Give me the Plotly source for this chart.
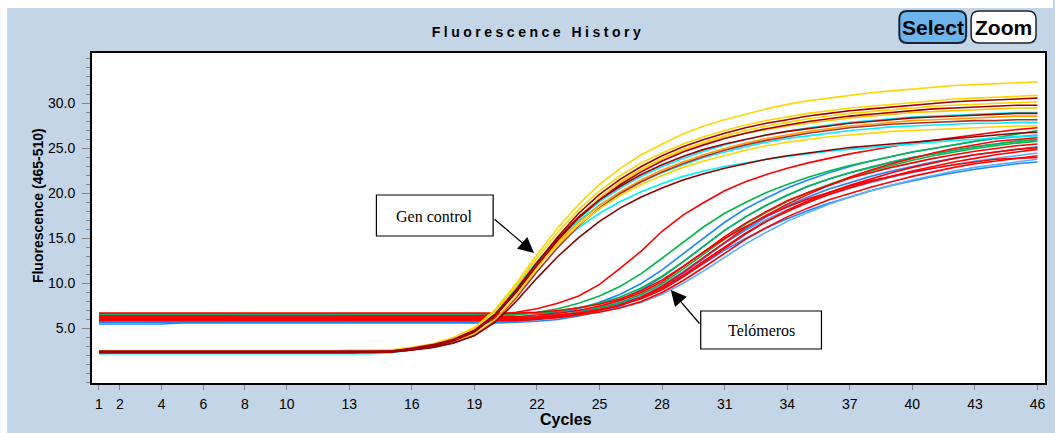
import plotly.graph_objects as go

# ---------------- data ----------------
cycles = list(range(1, 47))

x_tick_values = [1, 2, 4, 6, 8, 10, 13, 16, 19, 22, 25, 28, 31, 34, 37, 40, 43, 46]
y_tick_values = [5, 10, 15, 20, 25, 30]
y_tick_labels = ["5.0", "10.0", "15.0", "20.0", "25.0", "30.0"]

# "Gen control" curves (cycles 1..46)
gen_yellow_1 = [2.5, 2.5, 2.5, 2.5, 2.5, 2.5, 2.5, 2.5, 2.5, 2.5, 2.5, 2.5, 2.5, 2.5,
                2.6, 2.9, 3.3, 4.0, 5.1, 7.1, 10.0, 13.2, 16.2, 18.8, 21.0, 22.8, 24.3, 25.5, 26.6, 27.5, 28.2, 28.8,
                29.4, 29.9, 30.3, 30.6, 30.9, 31.2, 31.4, 31.6, 31.8, 32.0, 32.1, 32.2, 32.3, 32.4]
gen_yellow_2 = [2.4, 2.4, 2.4, 2.4, 2.4, 2.4, 2.4, 2.4, 2.4, 2.4, 2.4, 2.4, 2.4, 2.4,
                2.5, 2.8, 3.2, 3.9, 5.0, 6.9, 9.7, 12.8, 15.7, 18.2, 20.3, 22.0, 23.4, 24.5, 25.5, 26.3, 27.0, 27.6,
                28.1, 28.5, 28.9, 29.2, 29.5, 29.7, 29.9, 30.1, 30.3, 30.5, 30.6, 30.7, 30.8, 30.9]
gen_darkred_1 = [2.3, 2.3, 2.3, 2.3, 2.3, 2.3, 2.3, 2.3, 2.3, 2.3, 2.3, 2.3, 2.3, 2.4,
                 2.5, 2.7, 3.1, 3.7, 4.7, 6.5, 9.2, 12.3, 15.2, 17.8, 19.9, 21.6, 23.0, 24.2, 25.2, 26.0, 26.7, 27.3,
                 27.8, 28.2, 28.6, 28.9, 29.2, 29.4, 29.6, 29.8, 30.0, 30.2, 30.3, 30.4, 30.5, 30.6]
gen_yellow_3 = [2.5, 2.5, 2.5, 2.5, 2.5, 2.5, 2.5, 2.5, 2.5, 2.5, 2.5, 2.5, 2.6, 2.6,
                2.6, 2.7, 3.0, 3.5, 4.4, 6.0, 8.6, 11.7, 14.7, 17.3, 19.5, 21.3, 22.7, 23.9, 24.9, 25.7, 26.4, 27.0,
                27.5, 27.9, 28.3, 28.6, 28.9, 29.1, 29.3, 29.5, 29.7, 29.8, 29.9, 30.0, 30.1, 30.2]
gen_darkred_2 = [2.4, 2.4, 2.4, 2.4, 2.4, 2.4, 2.4, 2.4, 2.4, 2.4, 2.4, 2.4, 2.4, 2.4,
                 2.4, 2.6, 3.0, 3.6, 4.6, 6.4, 9.0, 12.0, 14.8, 17.3, 19.3, 21.0, 22.4, 23.6, 24.6, 25.4, 26.1, 26.7,
                 27.2, 27.6, 28.0, 28.3, 28.6, 28.8, 29.0, 29.2, 29.4, 29.5, 29.6, 29.7, 29.8, 29.8]
gen_cyan_1 = [2.2, 2.2, 2.2, 2.2, 2.2, 2.2, 2.2, 2.2, 2.2, 2.2, 2.2, 2.2, 2.2, 2.2,
              2.3, 2.6, 3.1, 3.8, 4.9, 6.8, 9.5, 12.4, 15.0, 17.2, 19.1, 20.6, 21.9, 23.0, 23.9, 24.7, 25.4, 26.0,
              26.5, 26.9, 27.3, 27.6, 27.9, 28.1, 28.3, 28.5, 28.6, 28.7, 28.8, 28.9, 29.0, 29.0]
gen_orange = [2.5, 2.5, 2.5, 2.5, 2.5, 2.5, 2.5, 2.5, 2.5, 2.5, 2.5, 2.5, 2.5, 2.5,
              2.5, 2.8, 3.2, 3.8, 4.8, 6.6, 9.2, 12.0, 14.6, 16.8, 18.7, 20.2, 21.5, 22.6, 23.5, 24.3, 25.0, 25.6,
              26.1, 26.5, 26.9, 27.2, 27.5, 27.7, 27.9, 28.1, 28.2, 28.3, 28.4, 28.5, 28.6, 28.6]
gen_brown = [2.3, 2.3, 2.3, 2.3, 2.3, 2.3, 2.3, 2.3, 2.3, 2.3, 2.3, 2.3, 2.3, 2.3,
             2.4, 2.6, 2.9, 3.4, 4.3, 5.9, 8.4, 11.3, 14.0, 16.4, 18.4, 20.0, 21.3, 22.4, 23.3, 24.1, 24.8, 25.4,
             25.9, 26.3, 26.7, 27.0, 27.3, 27.5, 27.7, 27.8, 27.9, 28.0, 28.1, 28.1, 28.2, 28.2]
gen_cyan_2 = [2.4, 2.4, 2.4, 2.4, 2.4, 2.4, 2.4, 2.4, 2.3, 2.3, 2.3, 2.3, 2.4, 2.4,
              2.4, 2.7, 3.2, 3.9, 5.0, 6.9, 9.6, 12.4, 14.9, 17.0, 18.7, 20.1, 21.3, 22.3, 23.2, 24.0, 24.6, 25.2,
              25.7, 26.1, 26.4, 26.7, 27.0, 27.2, 27.4, 27.5, 27.6, 27.7, 27.8, 27.8, 27.9, 27.9]
gen_yellow_4 = [2.5, 2.5, 2.5, 2.5, 2.5, 2.5, 2.5, 2.5, 2.5, 2.5, 2.5, 2.5, 2.5, 2.5,
                2.5, 2.7, 3.1, 3.7, 4.7, 6.4, 9.0, 11.8, 14.3, 16.5, 18.3, 19.8, 21.0, 22.0, 22.9, 23.6, 24.2, 24.8,
                25.3, 25.7, 26.0, 26.3, 26.5, 26.7, 26.9, 27.0, 27.1, 27.2, 27.3, 27.4, 27.5, 27.5]
gen_darkred_low = [2.4, 2.4, 2.4, 2.4, 2.4, 2.4, 2.4, 2.4, 2.4, 2.4, 2.4, 2.4, 2.4, 2.4,
                   2.4, 2.6, 2.9, 3.4, 4.2, 5.7, 8.0, 10.6, 13.0, 15.1, 16.9, 18.4, 19.6, 20.6, 21.5, 22.2, 22.8, 23.3,
                   23.8, 24.2, 24.5, 24.8, 25.1, 25.3, 25.5, 25.7, 25.9, 26.1, 26.3, 26.5, 26.7, 26.8]
gen_cyan_low = [2.3, 2.3, 2.3, 2.3, 2.3, 2.3, 2.3, 2.3, 2.3, 2.3, 2.3, 2.3, 2.3, 2.3,
                2.4, 2.7, 3.1, 3.8, 4.9, 6.7, 9.3, 12.0, 14.3, 16.2, 17.8, 19.1, 20.2, 21.1, 21.9, 22.5, 23.0, 23.4,
                23.8, 24.1, 24.4, 24.7, 24.9, 25.1, 25.3, 25.5, 25.7, 25.9, 26.0, 26.2, 26.3, 26.4]
gen_darkred_3 = [2.5, 2.5, 2.5, 2.5, 2.5, 2.5, 2.5, 2.5, 2.5, 2.5, 2.5, 2.5, 2.5, 2.5,
                 2.5, 2.8, 3.2, 3.8, 4.8, 6.6, 9.3, 12.3, 15.0, 17.4, 19.3, 20.8, 22.1, 23.2, 24.1, 24.9, 25.5, 26.0,
                 26.5, 26.9, 27.2, 27.5, 27.8, 28.0, 28.2, 28.4, 28.5, 28.6, 28.7, 28.8, 28.9, 28.9]
gen_gold = [2.4, 2.4, 2.4, 2.4, 2.4, 2.4, 2.4, 2.4, 2.4, 2.4, 2.4, 2.4, 2.4, 2.4,
            2.4, 2.7, 3.1, 3.7, 4.7, 6.5, 9.1, 12.1, 14.9, 17.4, 19.5, 21.2, 22.6, 23.8, 24.8, 25.6, 26.2, 26.7,
            27.1, 27.5, 27.8, 28.1, 28.4, 28.6, 28.8, 29.0, 29.1, 29.2, 29.3, 29.4, 29.5, 29.5]

# "Telómeros" curves (cycles 1..46)
tel_red_early = [6.4, 6.4, 6.4, 6.4, 6.4, 6.4, 6.4, 6.4, 6.4, 6.4,
                 6.4, 6.4, 6.4, 6.4, 6.4, 6.4, 6.4, 6.4, 6.4,
                 6.5, 6.8, 7.2, 7.8, 8.6, 9.9, 11.7, 13.6, 15.8, 17.6, 19.0, 20.3, 21.3, 22.1, 22.8, 23.4,
                 23.9, 24.4, 24.8, 25.2, 25.6, 25.9, 26.2, 26.5, 26.8, 27.1, 27.3]
tel_green_1 = [6.2, 6.2, 6.2, 6.2, 6.2, 6.2, 6.2, 6.2, 6.2, 6.2,
               6.2, 6.2, 6.2, 6.2, 6.2, 6.2, 6.2, 6.2, 6.2,
               6.3, 6.5, 6.8, 7.2, 7.8, 8.6, 9.7, 11.1, 12.8, 14.6, 16.3, 17.8, 19.0, 20.1, 21.0, 21.8,
               22.5, 23.1, 23.6, 24.1, 24.6, 25.0, 25.4, 25.8, 26.2, 26.6, 27.0]
tel_blue_1 = [5.8, 5.8, 5.8, 5.8, 5.8, 5.8, 5.8, 5.8, 5.8, 5.8,
              5.8, 5.8, 5.8, 5.8, 5.8, 5.8, 5.8, 5.8, 5.8,
              5.8, 6.0, 6.3, 6.7, 7.2, 7.9, 8.8, 10.0, 11.5, 13.3, 15.1, 16.8, 18.3, 19.5, 20.6, 21.5,
              22.3, 23.0, 23.6, 24.1, 24.6, 25.0, 25.4, 25.8, 26.1, 26.3, 26.5]
tel_green_2 = [6.5, 6.5, 6.5, 6.5, 6.5, 6.5, 6.5, 6.5, 6.5, 6.5,
               6.5, 6.5, 6.5, 6.5, 6.5, 6.5, 6.5, 6.5, 6.5,
               6.5, 6.6, 6.7, 6.9, 7.3, 7.8, 8.5, 9.5, 10.8, 12.4, 14.2, 15.9, 17.4, 18.7, 19.8, 20.8,
               21.6, 22.3, 22.9, 23.5, 24.0, 24.4, 24.8, 25.2, 25.5, 25.8, 26.0]
tel_red_2 = [6.3, 6.3, 6.3, 6.3, 6.3, 6.3, 6.3, 6.2, 6.2, 6.2,
             6.2, 6.2, 6.3, 6.3, 6.3, 6.3, 6.3, 6.3, 6.3,
             6.3, 6.3, 6.5, 6.7, 7.0, 7.5, 8.1, 9.0, 10.2, 11.8, 13.5, 15.2, 16.7, 18.0, 19.2, 20.1,
             20.9, 21.7, 22.3, 22.9, 23.4, 23.9, 24.3, 24.7, 25.0, 25.3, 25.5]
tel_blue_2 = [5.5, 5.5, 5.5, 5.5, 5.6, 5.6, 5.6, 5.6, 5.6, 5.6,
              5.6, 5.6, 5.6, 5.6, 5.6, 5.6, 5.6, 5.6, 5.6,
              5.6, 5.7, 5.8, 6.0, 6.4, 6.9, 7.5, 8.4, 9.6, 11.1, 12.8, 14.5, 16.0, 17.4, 18.6, 19.6,
              20.5, 21.2, 21.9, 22.5, 23.0, 23.5, 23.9, 24.3, 24.6, 24.9, 25.2]
tel_lightblue = [6.0, 6.0, 6.0, 6.0, 6.0, 6.0, 6.0, 6.0, 6.0, 6.0,
                 6.0, 6.0, 6.0, 6.0, 6.0, 6.0, 6.0, 6.0, 6.0,
                 6.0, 6.0, 6.2, 6.4, 6.8, 7.2, 7.8, 8.7, 9.8, 11.3, 12.9, 14.5, 15.9, 17.1, 18.2, 19.1,
                 19.9, 20.6, 21.2, 21.8, 22.3, 22.8, 23.2, 23.6, 23.9, 24.2, 24.5]
tel_red_3 = [6.1, 6.1, 6.1, 6.1, 6.1, 6.1, 6.1, 6.1, 6.1, 6.1,
             6.1, 6.1, 6.1, 6.1, 6.1, 6.1, 6.1, 6.1, 6.1,
             6.1, 6.1, 6.2, 6.4, 6.7, 7.1, 7.6, 8.4, 9.5, 10.9, 12.5, 14.1, 15.6, 16.9, 18.0, 19.0,
             19.9, 20.6, 21.3, 21.9, 22.5, 23.0, 23.5, 23.9, 24.3, 24.6, 24.9]
tel_red_4 = [5.9, 5.9, 5.9, 5.9, 5.9, 5.9, 5.9, 5.9, 5.9, 5.9,
             5.9, 5.9, 5.9, 5.9, 5.9, 5.9, 5.9, 5.9, 5.9,
             5.9, 5.9, 6.0, 6.2, 6.5, 6.8, 7.3, 8.0, 9.0, 10.3, 11.8, 13.4, 14.9, 16.2, 17.4, 18.4,
             19.3, 20.0, 20.7, 21.3, 21.9, 22.4, 22.9, 23.3, 23.6, 23.9, 24.2]
tel_green_3 = [6.0, 6.0, 6.0, 6.0, 6.0, 6.0, 6.0, 6.0, 6.0, 6.0,
               6.0, 6.0, 6.0, 6.0, 6.0, 5.9, 5.9, 5.9, 5.9,
               6.0, 6.1, 6.2, 6.5, 6.8, 7.3, 7.9, 8.8, 10.0, 11.6, 13.3, 15.0, 16.6, 17.9, 19.1, 20.1,
               21.0, 21.8, 22.5, 23.1, 23.7, 24.2, 24.6, 25.0, 25.3, 25.6, 25.8]
tel_blue_3 = [6.6, 6.6, 6.6, 6.6, 6.6, 6.6, 6.6, 6.6, 6.6, 6.6,
              6.6, 6.6, 6.6, 6.6, 6.6, 6.6, 6.6, 6.6, 6.6,
              6.6, 6.6, 6.7, 6.8, 7.0, 7.3, 7.8, 8.5, 9.5, 10.8, 12.2, 13.7, 15.0, 16.2, 17.2, 18.1,
              18.9, 19.6, 20.3, 20.9, 21.4, 21.9, 22.3, 22.7, 23.0, 23.3, 23.5]
tel_red_5 = [6.2, 6.2, 6.2, 6.2, 6.2, 6.2, 6.2, 6.2, 6.2, 6.2,
             6.2, 6.2, 6.2, 6.2, 6.2, 6.2, 6.2, 6.2, 6.2,
             6.2, 6.2, 6.3, 6.5, 6.7, 7.1, 7.6, 8.3, 9.3, 10.7, 12.3, 13.9, 15.5, 16.9, 18.1, 19.2,
             20.1, 20.9, 21.6, 22.3, 22.9, 23.4, 23.9, 24.3, 24.6, 24.9, 25.1]
tel_blue_4 = [5.7, 5.7, 5.7, 5.7, 5.7, 5.7, 5.7, 5.7, 5.7, 5.7,
              5.7, 5.7, 5.7, 5.7, 5.7, 5.7, 5.7, 5.7, 5.7,
              5.7, 5.8, 6.0, 6.4, 6.8, 7.4, 8.2, 9.3, 10.7, 12.4, 14.2, 15.9, 17.4, 18.7, 19.8, 20.8,
              21.6, 22.3, 22.9, 23.5, 24.0, 24.4, 24.8, 25.2, 25.5, 25.8, 26.0]
tel_red_6 = [6.7, 6.7, 6.7, 6.7, 6.7, 6.7, 6.7, 6.7, 6.7, 6.7,
             6.7, 6.7, 6.7, 6.7, 6.7, 6.7, 6.7, 6.7, 6.7,
             6.7, 6.7, 6.8, 7.0, 7.3, 7.7, 8.3, 9.2, 10.4, 11.9, 13.5, 15.0, 16.3, 17.5, 18.5, 19.4,
             20.1, 20.8, 21.4, 21.9, 22.4, 22.8, 23.2, 23.5, 23.8, 23.9, 24.0]
tel_blue_5 = [6.3, 6.3, 6.3, 6.3, 6.3, 6.3, 6.3, 6.3, 6.3, 6.3,
              6.3, 6.3, 6.3, 6.3, 6.3, 6.3, 6.3, 6.3, 6.3,
              6.3, 6.3, 6.3, 6.4, 6.6, 6.9, 7.3, 7.9, 8.8, 10.0, 11.4, 12.9, 14.4, 15.7, 16.9, 17.9,
              18.8, 19.6, 20.3, 20.9, 21.5, 22.0, 22.5, 22.9, 23.2, 23.5, 23.8]
tel_red_7 = [6.0, 6.0, 6.0, 6.0, 6.0, 6.0, 6.0, 6.0, 6.0, 6.0,
             6.0, 6.0, 6.0, 6.0, 6.0, 6.0, 6.0, 6.0, 6.0,
             6.0, 6.0, 6.1, 6.3, 6.6, 7.0, 7.6, 8.5, 9.7, 11.2, 12.9, 14.6, 16.2, 17.6, 18.8, 19.9,
             20.9, 21.8, 22.6, 23.3, 23.9, 24.5, 25.0, 25.4, 25.8, 26.0, 26.2]

# ---------------- styling ----------------
YELLOW, GOLD, DARKRED, DKRED2, BROWN = "#FFD400", "#FFC400", "#A00000", "#8B0000", "#B03030"
CYAN, ORANGE = "#00F0FF", "#FFA000"
RED, BLUE, LBLUE, GREEN = "#FF0000", "#1E88FF", "#5AAEFF", "#00B84A"

series = [
    (tel_lightblue, LBLUE), (tel_blue_1, BLUE), (tel_blue_2, BLUE), (tel_blue_3, BLUE),
    (tel_blue_4, BLUE), (tel_blue_5, LBLUE),
    (tel_green_1, GREEN), (tel_green_2, GREEN), (tel_green_3, GREEN),
    (tel_red_2, RED), (tel_red_3, RED), (tel_red_4, RED), (tel_red_5, RED),
    (tel_red_6, RED), (tel_red_7, RED), (tel_red_early, RED),
    (gen_cyan_1, CYAN), (gen_cyan_2, CYAN), (gen_cyan_low, CYAN),
    (gen_orange, ORANGE), (gen_brown, BROWN),
    (gen_yellow_4, YELLOW), (gen_gold, GOLD), (gen_yellow_3, YELLOW),
    (gen_yellow_2, YELLOW), (gen_yellow_1, YELLOW),
    (gen_darkred_low, DKRED2), (gen_darkred_3, DARKRED), (gen_darkred_2, DARKRED),
    (gen_darkred_1, DARKRED),
]

W, H = 1055, 433
ML, MR, MT, MB = 92, 8, 53, 50
PW, PH = W - ML - MR, H - MT - MB


def px(xp):
    return (xp - ML) / PW


def py(yp):
    return (H - MB - yp) / PH


fig = go.Figure()
for vals, col in series:
    if len(vals) != len(cycles):
        raise ValueError("bad length %d" % len(vals))
    fig.add_trace(go.Scatter(x=cycles, y=vals, mode="lines",
                             line=dict(color=col, width=1.6), hoverinfo="skip",
                             showlegend=False))

BG = "#C3D5E6"
FONT = "Liberation Sans, Arial, sans-serif"
NARROW = "Liberation Sans Narrow, Arial Narrow, Liberation Sans, sans-serif"
SERIF = "Liberation Serif, Times New Roman, serif"


def rounded(x0, y0, x1, y1, r):
    def P(a, b):
        return "%.5f,%.5f" % (px(a), py(b))
    return ("M" + P(x0 + r, y0) + " L" + P(x1 - r, y0) + " Q" + P(x1, y0) + " " + P(x1, y0 + r) +
            " L" + P(x1, y1 - r) + " Q" + P(x1, y1) + " " + P(x1 - r, y1) +
            " L" + P(x0 + r, y1) + " Q" + P(x0, y1) + " " + P(x0, y1 - r) +
            " L" + P(x0, y0 + r) + " Q" + P(x0, y0) + " " + P(x0 + r, y0) + " Z")


shapes = [
    dict(type="rect", xref="paper", yref="paper", x0=px(0), x1=px(W), y0=py(8), y1=py(0),
         fillcolor="white", line=dict(width=0), layer="above"),
    dict(type="rect", xref="paper", yref="paper", x0=px(0), x1=px(7), y0=py(H), y1=py(0),
         fillcolor="white", line=dict(width=0), layer="above"),
    dict(type="path", xref="paper", yref="paper", path=rounded(901, 11, 968, 43, 8),
         fillcolor="#6DB4EC", line=dict(color="#1B2430", width=2)),
    dict(type="path", xref="paper", yref="paper", path=rounded(973, 11, 1038, 43, 8),
         fillcolor="white", line=dict(color="#1B2430", width=1.5)),
    dict(type="rect", xref="paper", yref="paper", x0=px(377), x1=px(494), y0=py(236), y1=py(195),
         fillcolor="white", line=dict(color="black", width=1.2)),
    dict(type="rect", xref="paper", yref="paper", x0=px(702), x1=px(823), y0=py(349), y1=py(311),
         fillcolor="white", line=dict(color="black", width=1.2)),
]


def label(text, xp, yp, font, angle=0):
    return dict(text=text, x=px(xp), y=py(yp), xref="paper", yref="paper",
                xanchor="center", yanchor="middle", showarrow=False, textangle=angle, font=font)


annotations = [
    label("<b>Select</b>", 934.5, 27.5, dict(family=NARROW, size=21, color="black")),
    label("<b>Zoom</b>", 1005.5, 27.5, dict(family=NARROW, size=21, color="black")),
    label("Gen control", 435.5, 216, dict(family=SERIF, size=16, color="black")),
    label("Telómeros", 762.5, 330, dict(family=SERIF, size=16, color="black")),
    label("<b>Fluorescence (465-510)</b>", 38, 206, dict(family=FONT, size=14, color="black"), -90),
    label("<b>Cycles</b>", 567, 419, dict(family=FONT, size=16, color="black")),
    dict(text="", x=px(535), y=py(253), xref="paper", yref="paper", showarrow=True,
         ax=494 - 535, ay=218 - 253, axref="pixel", ayref="pixel", arrowhead=2, arrowsize=2.4,
         arrowwidth=1.3, arrowcolor="black", standoff=0, startstandoff=0),
    dict(text="", x=px(672), y=py(290), xref="paper", yref="paper", showarrow=True,
         ax=702 - 672, ay=325 - 290, axref="pixel", ayref="pixel", arrowhead=2, arrowsize=2.4,
         arrowwidth=1.3, arrowcolor="black", standoff=0, startstandoff=0),
]

fig.update_layout(
    width=W, height=H,
    margin=dict(l=ML, r=MR, t=MT, b=MB),
    paper_bgcolor=BG, plot_bgcolor="white",
    title=dict(text="<b>Fluorescence History</b>", x=538 / W, xref="container", xanchor="center",
               y=1 - 32 / H, yref="container", yanchor="middle",
               font=dict(family=FONT, size=14, color="black")),
    shapes=shapes, annotations=annotations,
    xaxis=dict(range=[0.665, 46.36], tickmode="array", tickvals=x_tick_values,
               ticks="outside", ticklen=5, tickcolor="#808080", tickwidth=1,
               showgrid=False, zeroline=False, showline=True, linecolor="black", linewidth=2,
               mirror=True, ticklabelstandoff=2,
               tickfont=dict(family=FONT, size=14, color="black")),
    yaxis=dict(range=[-1.06, 35.61], tickmode="array", tickvals=y_tick_values, ticktext=y_tick_labels,
               ticks="outside", ticklen=8, tickcolor="#808080", tickwidth=1,
               minor=dict(tickmode="linear", tick0=0, dtick=1, ticks="outside", ticklen=4,
                          tickcolor="#808080"),
               showgrid=False, zeroline=False, showline=True, linecolor="black", linewidth=2,
               mirror=True, ticklabelstandoff=4,
               tickfont=dict(family=FONT, size=14, color="black")),
)

post = ("document.querySelectorAll('.gtitle').forEach(function(e){e.style.letterSpacing='3.5px';});")
fig.write_html("out.html", post_script=post)
